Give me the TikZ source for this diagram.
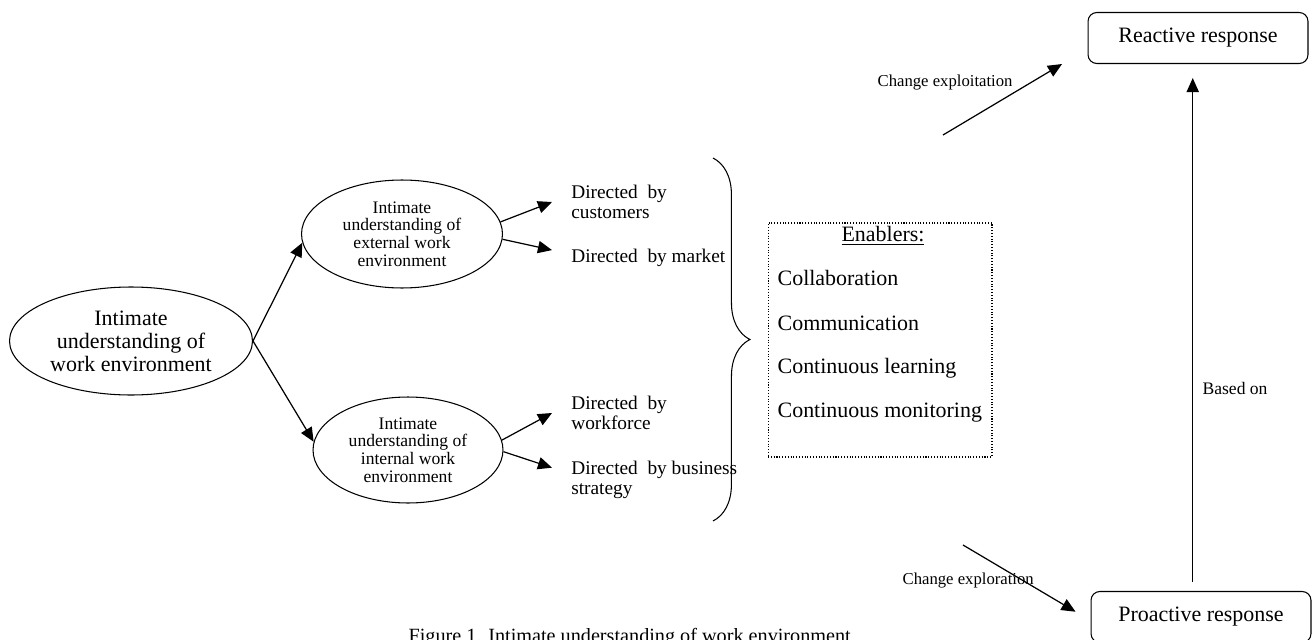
\documentclass[tikz,border=0pt]{standalone}
\usepackage{fontspec}
\setmainfont{Liberation Serif}
\usetikzlibrary{shapes.geometric, arrows.meta, positioning, decorations.pathreplacing}

\begin{document}
\begin{tikzpicture}[x=0.02cm, y=-0.02cm, line width=0.7pt, >={Triangle[length=8pt,width=7pt]},
  main node/.style={ellipse, draw, line width=0.6pt, inner sep=0pt, align=center, minimum height=2.16cm},
  big text/.style={font=\fontsize{12.5}{13}\selectfont},
  small text/.style={font=\fontsize{10}{10}\selectfont},
  dir node/.style={anchor=west, align=left, inner sep=0pt, outer sep=11pt, font=\fontsize{11}{11.5}\selectfont},
  resp node/.style={draw, line width=0.6pt, rounded corners=5pt, minimum width=4.4cm, minimum height=1.02cm, font=\fontsize{12.5}{13}\selectfont},
  item/.style={anchor=west, inner sep=0pt, font=\fontsize{12.5}{13}\selectfont},
  note/.style={anchor=west, inner sep=0pt, font=\fontsize{9.5}{10}\selectfont}]
   \useasboundingbox (0,0) rectangle (1315,639);
   \clip (0,0) rectangle (1315,639);

   \node[main node, big text, minimum width=4.86cm]  (env) at (131,341) {Intimate\\understanding of\\work environment};
   \node[main node, small text, minimum width=4.02cm] (ext) at (402,234) {Intimate\\understanding of\\external work\\environment};
   \node[main node, small text, minimum width=3.8cm, minimum height=2.12cm] (int) at (408,450) {Intimate\\understanding of\\internal work\\environment};

   \node[dir node] (cust)  at (552,202) {Directed~ by\\customers};
   \node[dir node] (mkt)   at (552,258) {Directed~ by market};
   \node[dir node] (wf)    at (552,413) {Directed~ by\\workforce};
   \node[dir node] (strat) at (552,480) {Directed~ by business\\strategy};

   \draw[->] (env.east) -- (ext.185);
   \draw[->] (env.east) -- (int.175);
   \draw[->] (ext.7) -- (cust.west);
   \draw[->] (ext.-3) -- ([yshift=4.5pt]mkt.west);
   \draw[->] (int.6) -- (wf.west);
   \draw[->] (int.-1) -- ([yshift=7pt]strat.west);

   \coordinate (btop) at (713,158);
   \coordinate (bbot) at (713,521);
   \draw[line width=0.6pt, decorate, decoration={brace, amplitude=21pt}] (btop) -- (bbot);

   \node[draw, densely dotted, line width=0.6pt, minimum width=4.48cm, minimum height=4.68cm] (enab) at (880,340) {};
   \node[item, anchor=center] (entitle) at (883,236) {\underline{Enablers:}};
   \node[item] (collab) at (777,278) {Collaboration};
   \node[below=0.9cm of collab.west, item] (comm) {Communication};
   \node[below=0.9cm of comm.west, item] (learn) {Continuous learning};
   \node[below=0.9cm of learn.west, item] (monit) {Continuous monitoring};

   \node[resp node] (rea) at (1198,38) {Reactive response};
   \node[resp node] (pro) at (1201,617) {Proactive response};
   \draw[->, shorten <=5pt, shorten >=8pt] ([xshift=-3pt]pro.north -| rea.south) -- ([xshift=-3pt]rea.south);
   \node[note, font=\fontsize{10}{10}\selectfont] (based) at (1202,388) {Based on};

   \coordinate (xstart) at (943,135);
   \draw[->] (xstart) -- ([xshift=-14.5pt]rea.south west);
   \node[note] (exploit) at (877,83) {Change exploitation};
   \coordinate (rstart) at (963,545);
   \draw[->] (rstart) -- ([xshift=-8.5pt,yshift=3pt]pro.west);
   \node[note] (explor) at (902,581) {Change exploration};

   \node[anchor=base west, inner sep=0pt, font=\fontsize{11.5}{12}\selectfont] (cap) at (408,642) {Figure 1. Intimate understanding of work environment};
\end{tikzpicture}
\end{document}
